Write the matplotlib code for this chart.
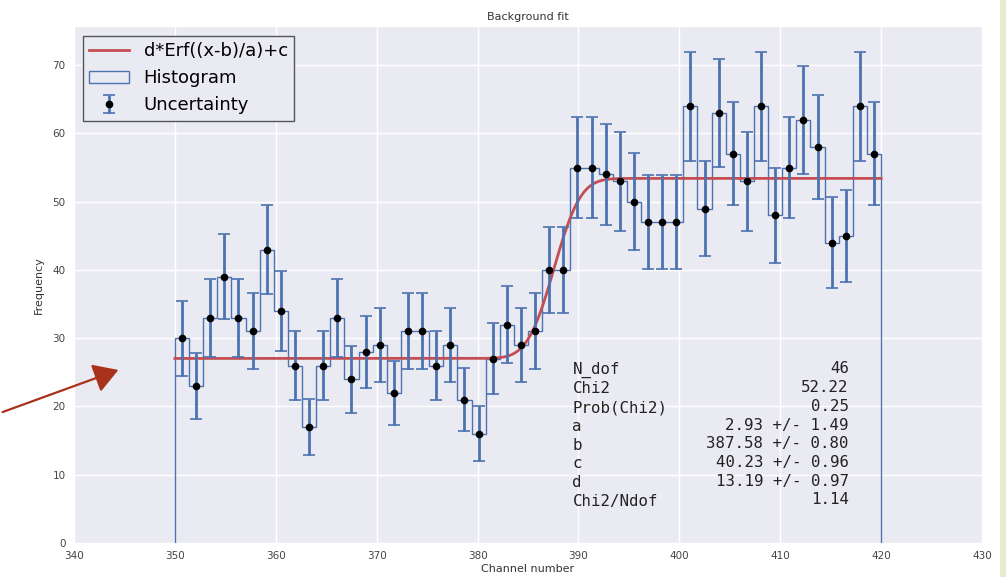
import math
import numpy as np
import matplotlib
matplotlib.use("Agg")
import matplotlib.pyplot as plt
from matplotlib.patches import FancyArrowPatch, Rectangle

# ---- data ----
bin_edges_range = (350, 420)
n_bins = 50
counts = [30, 23, 33, 39, 33, 31, 43, 34, 26, 17, 26, 33, 24, 28, 29, 22, 31, 31, 26, 29,
          21, 16, 27, 32, 29, 31, 40, 40, 55, 55, 54, 53, 50, 47, 47, 47, 64, 49, 63, 57,
          53, 64, 48, 55, 62, 58, 44, 45, 64, 57]
fit_a, fit_b, fit_c, fit_d = 2.93, 387.58, 40.23, 13.19
stat_names = ["N_dof", "Chi2", "Prob(Chi2)", "a", "b", "c", "d", "Chi2/Ndof"]
stat_values = ["46", "52.22", "0.25", "2.93 +/- 1.49", "387.58 +/- 0.80",
               "40.23 +/- 0.96", "13.19 +/- 0.97", "1.14"]
x_ticks = [340, 350, 360, 370, 380, 390, 400, 410, 420, 430]
y_ticks = [0, 10, 20, 30, 40, 50, 60, 70]

BLUE = "#4C72B0"
RED = "#C44E52"

edges = np.linspace(bin_edges_range[0], bin_edges_range[1], n_bins + 1)
centers = 0.5 * (edges[:-1] + edges[1:])
counts_arr = np.array(counts, dtype=float)
errors = np.sqrt(counts_arr)

fig = plt.figure(figsize=(10.06, 5.77), dpi=100, facecolor="white")
ax = fig.add_axes([74 / 1006, 34 / 577, (982 - 74) / 1006, (550 - 34) / 577])
ax.set_facecolor("#EAEAF2")
for s in ax.spines.values():
    s.set_visible(False)
ax.grid(True, color="white", linewidth=1.0)
ax.set_axisbelow(True)

xf = np.linspace(bin_edges_range[0], bin_edges_range[1], 500)
erf_v = np.vectorize(math.erf)
yf = fit_d * erf_v((xf - fit_b) / fit_a) + fit_c
ax.plot(xf, yf, color=RED, linewidth=2, label="d*Erf((x-b)/a)+c", zorder=3)

ax.hist(centers, bins=edges, weights=counts_arr, histtype="step", color=BLUE,
        linewidth=1.0, label="Histogram", zorder=2)

ax.errorbar(centers, counts_arr, yerr=errors, fmt="o", color="black", markersize=4.5,
            ecolor=BLUE, elinewidth=2, capsize=4, capthick=1.2, label="Uncertainty", zorder=4)

ax.set_xlim(340, 430)
ax.set_ylim(0, 75.6)
ax.set_xticks(x_ticks)
ax.set_yticks(y_ticks)
ax.tick_params(axis="both", length=0, labelsize=7.5, labelcolor="#444444", pad=6)
ax.set_xlabel("Channel number", fontsize=8, color="#333333", labelpad=2)
ax.set_ylabel("Frequency", fontsize=8, color="#333333", labelpad=6)
ax.set_title("Background fit", fontsize=8, color="#333333", pad=5)

leg = ax.legend(loc="upper left", fontsize=13, frameon=True, fancybox=False,
                facecolor="#EAEAF2", edgecolor="#555555", framealpha=1,
                borderaxespad=0.5, handlelength=2.2, labelspacing=0.5,
                borderpad=0.35)
leg.get_frame().set_linewidth(1.0)

y0 = 26.6
ax.text(389.4, y0, "\n".join(stat_names), family="DejaVu Sans Mono", fontsize=11.3,
        ha="left", va="top", color="#222222", linespacing=1.31, zorder=5)
ax.text(416.8, y0, "\n".join(stat_values), family="DejaVu Sans Mono", fontsize=11.3,
        ha="right", va="top", color="#222222", linespacing=1.31, zorder=5)

# slide decoration: right edge band and arrow
fig.patches.append(Rectangle((1000 / 1006, 0), 6 / 1006, 1, transform=fig.transFigure,
                             facecolor="#E6EBCF", edgecolor="none"))
arrow = FancyArrowPatch((0 / 1006, 1 - 413 / 577), (121 / 1006, 1 - 369 / 577),
                        transform=fig.transFigure, arrowstyle="-|>,head_length=10,head_width=6",
                        color="#A8321A", linewidth=1.6, mutation_scale=1.5)
fig.patches.append(arrow)

fig.savefig("out.png", dpi=100, facecolor=fig.get_facecolor())
